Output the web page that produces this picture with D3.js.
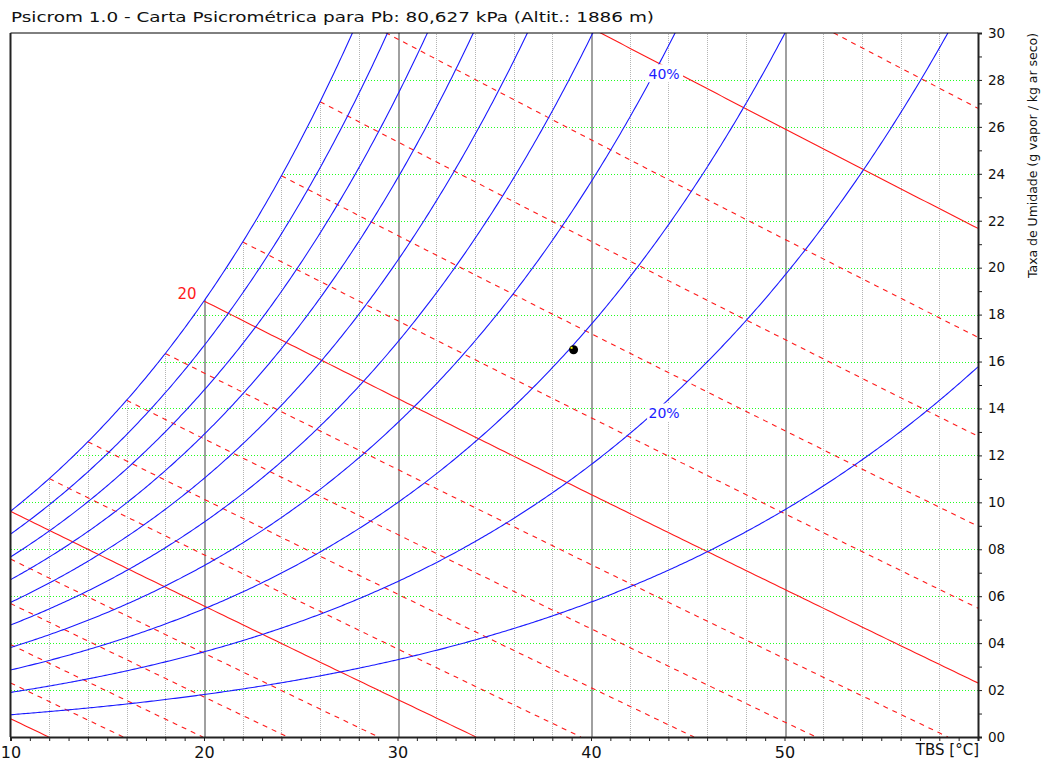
<!DOCTYPE html>
<html>
<head>
<meta charset="utf-8">
<script src="https://cdn.jsdelivr.net/npm/d3@7"></script>
<style>
  body { margin: 0; background: #fff; }
  text { font-family: "DejaVu Sans", "Liberation Sans", Arial, sans-serif; }
</style>
</head>
<body>
<div id="chart"></div>
<script>
// chart data
var pressure = 80.627;                       // kPa
var titleText = "Psicrom 1.0 - Carta Psicrométrica para Pb: 80,627 kPa (Altit.: 1886 m)";
var axisTitle = "Taxa de Umidade (g vapor / kg ar seco)";
var rhLevels = [10, 20, 30, 40, 50, 60, 70, 80, 90, 100];
var rhLabelled = [40, 20];
var rhLabelTemp = 43.26;
var wetBulbTemps = [0, 2, 4, 6, 8, 10, 12, 14, 16, 18, 20, 22, 24, 26, 28, 30, 32];
var wetBulbLabelled = [20];
var tempTicks = [10, 20, 30, 40, 50];
var humTicks = [0, 2, 4, 6, 8, 10, 12, 14, 16, 18, 20, 22, 24, 26, 28, 30];
var statePoint = [39.1, 16.5];

var svgWidth = 1042;
var svgHeight = 763;

var svg = d3.select("#chart").append("svg")
  .attr("width", svgWidth)
  .attr("height", svgHeight);

var x = d3.scaleLinear().domain([10, 60]).range([10.5, 978]);
var y = d3.scaleLinear().domain([0, 30]).range([737, 33]);

// saturation pressure, kPa (Hyland-Wexler)
function psat(t) {
  var T = t + 273.15;
  var ln = -5.8002206e3 / T + 1.3914993 - 4.8640239e-2 * T + 4.1764768e-5 * T * T
    - 1.4452093e-8 * T * T * T + 6.5459673 * Math.log(T);
  return Math.exp(ln) / 1000;
}
function wFromPv(pv) { return 622 * pv / (pressure - pv); }
var psyA = 0.000633 * pressure;

var line = d3.line().x(d => x(d[0])).y(d => y(d[1]));
var temps = d3.range(10, 60.001, 0.1);

// clip areas
var defs = svg.append("defs");
defs.append("clipPath").attr("id", "plotClip").append("rect")
  .attr("x", x(10)).attr("y", y(30)).attr("width", x(60) - x(10)).attr("height", y(0) - y(30));
var satArea = temps.map(t => [t, Math.min(wFromPv(psat(t)), 31)]);
satArea.push([60, 0], [10, 0]);
defs.append("clipPath").attr("id", "satClip").append("path")
  .attr("d", line(satArea) + "Z");

var grid = svg.append("g").attr("clip-path", "url(#plotClip)")
  .append("g").attr("clip-path", "url(#satClip)");

// vertical grid
grid.selectAll(".vgrid")
  .data(d3.range(12, 60, 2))
  .enter().append("line")
  .attr("x1", d => Math.round(x(d)) + 0.5).attr("x2", d => Math.round(x(d)) + 0.5)
  .attr("y1", y(0)).attr("y2", y(30))
  .attr("stroke", d => d % 10 === 0 ? "#a0a0a0" : "#b4b4b4")
  .attr("stroke-width", d => d % 10 === 0 ? 2 : 1)
  .attr("stroke-dasharray", d => d % 10 === 0 ? null : "1,1")
  .attr("shape-rendering", "crispEdges");

// horizontal grid
grid.selectAll(".hgrid")
  .data(humTicks.filter(d => d > 0 && d < 30))
  .enter().append("line")
  .attr("x1", x(10)).attr("x2", x(60))
  .attr("y1", d => Math.round(y(d)) + 0.5).attr("y2", d => Math.round(y(d)) + 0.5)
  .attr("stroke", "#22ff22")
  .attr("stroke-width", 1)
  .attr("stroke-dasharray", "1,2")
  .attr("shape-rendering", "crispEdges");

var chartGroup = svg.append("g").attr("clip-path", "url(#plotClip)");

// wet bulb lines
function wetBulbLine(twb) {
  var pts = [];
  var ps = psat(twb);
  var tEnd = Math.min(60, twb + ps / psyA);
  var ts = d3.range(Math.max(twb, 10), tEnd, 0.25);
  ts.push(tEnd);
  ts.forEach(function(t) {
    var pv = Math.max(ps - psyA * (t - twb), 0);
    pts.push([t, wFromPv(pv)]);
  });
  return pts;
}
chartGroup.selectAll(".wb")
  .data(wetBulbTemps)
  .enter().append("path")
  .attr("d", d => line(wetBulbLine(d)))
  .attr("fill", "none")
  .attr("stroke", "#ff1a1a")
  .attr("stroke-width", 1.1)
  .attr("stroke-dasharray", d => d % 10 === 0 ? null : "5,5");

// relative humidity curves
chartGroup.selectAll(".rh")
  .data(rhLevels)
  .enter().append("path")
  .attr("d", function(rh) {
    var pts = [];
    for (var i = 0; i < temps.length; i++) {
      var w = wFromPv(rh / 100 * psat(temps[i]));
      pts.push([temps[i], w]);
      if (w > 31) break;
    }
    return line(pts);
  })
  .attr("fill", "none")
  .attr("stroke", "#1a1aff")
  .attr("stroke-width", 1.1);

// rh labels
rhLabelled.forEach(function(rh) {
  var w = wFromPv(rh / 100 * psat(rhLabelTemp));
  var g = chartGroup.append("g")
    .attr("transform", `translate(${x(rhLabelTemp)}, ${y(w)})`);
  g.append("rect")
    .attr("x", -7).attr("y", -9).attr("width", 36).attr("height", 18)
    .attr("fill", "#fff");
  g.append("text")
    .attr("x", 10)
    .attr("text-anchor", "middle")
    .attr("y", 5.5)
    .attr("font-size", "14px")
    .attr("fill", "#1a1aff")
    .text(rh + "%");
});

// wet bulb labels
wetBulbLabelled.forEach(function(twb) {
  svg.append("text")
    .attr("x", x(twb) - 17)
    .attr("y", y(wFromPv(psat(twb))) - 2)
    .attr("text-anchor", "middle")
    .attr("font-size", "15px")
    .attr("fill", "#ff1a1a")
    .text(twb);
});

// state point
chartGroup.append("circle")
  .attr("cx", x(statePoint[0])).attr("cy", y(statePoint[1]))
  .attr("r", 4.5).attr("fill", "#000");
chartGroup.append("rect")
  .attr("x", x(statePoint[0]) - 3).attr("y", y(statePoint[1]) - 3)
  .attr("width", 2).attr("height", 2).attr("fill", "#ffff00");

// frame
svg.append("line")
  .attr("x1", x(10)).attr("x2", x(60)).attr("y1", y(30)).attr("y2", y(30))
  .attr("stroke", "#000").attr("stroke-width", 1);
svg.append("line")
  .attr("x1", x(10)).attr("x2", x(10)).attr("y1", y(30)).attr("y2", y(0))
  .attr("stroke", "#222").attr("stroke-width", 2);

// bottom axis
var xAxis = d3.axisBottom(x)
  .tickValues(d3.range(10, 60, 1))
  .tickSize(4)
  .tickFormat(d => tempTicks.includes(d) ? d : "");
var xg = svg.append("g")
  .attr("transform", `translate(0, ${y(0)})`)
  .call(xAxis);
xg.select(".domain").attr("stroke", "#222").attr("stroke-width", 2);
xg.selectAll(".tick line").attr("stroke", "#222");
xg.selectAll("text").attr("font-size", "16px").attr("fill", "#111")
  .attr("font-family", "DejaVu Sans, Liberation Sans, sans-serif").attr("dy", "0.85em");
svg.append("text")
  .attr("x", 979).attr("y", 755)
  .attr("text-anchor", "end")
  .attr("font-size", "15px")
  .attr("fill", "#111")
  .text("TBS [°C]");

// right axis
var yAxis = d3.axisRight(y)
  .tickValues(d3.range(0, 31, 1))
  .tickSize(4)
  .tickFormat(d => humTicks.includes(d) ? d3.format("02d")(d) : "");
var yg = svg.append("g")
  .attr("transform", `translate(${x(60)}, 0)`)
  .call(yAxis);
yg.select(".domain").attr("stroke", "#222").attr("stroke-width", 2);
yg.selectAll(".tick line").attr("stroke", "#222");
yg.selectAll("text").attr("font-size", "13.5px").attr("fill", "#111")
  .attr("font-family", "DejaVu Sans, Liberation Sans, sans-serif").attr("x", 10);

// right axis title
svg.append("text")
  .attr("transform", "translate(1037, 155.5) rotate(-90)")
  .attr("text-anchor", "middle")
  .attr("font-size", "12.5px")
  .attr("fill", "#111")
  .attr("textLength", 245)
  .attr("lengthAdjust", "spacingAndGlyphs")
  .text(axisTitle);

// title
svg.append("text")
  .attr("x", 11).attr("y", 22)
  .attr("font-size", "14.5px")
  .attr("fill", "#111")
  .attr("textLength", 643)
  .attr("lengthAdjust", "spacingAndGlyphs")
  .text(titleText);
</script>
</body>
</html>
